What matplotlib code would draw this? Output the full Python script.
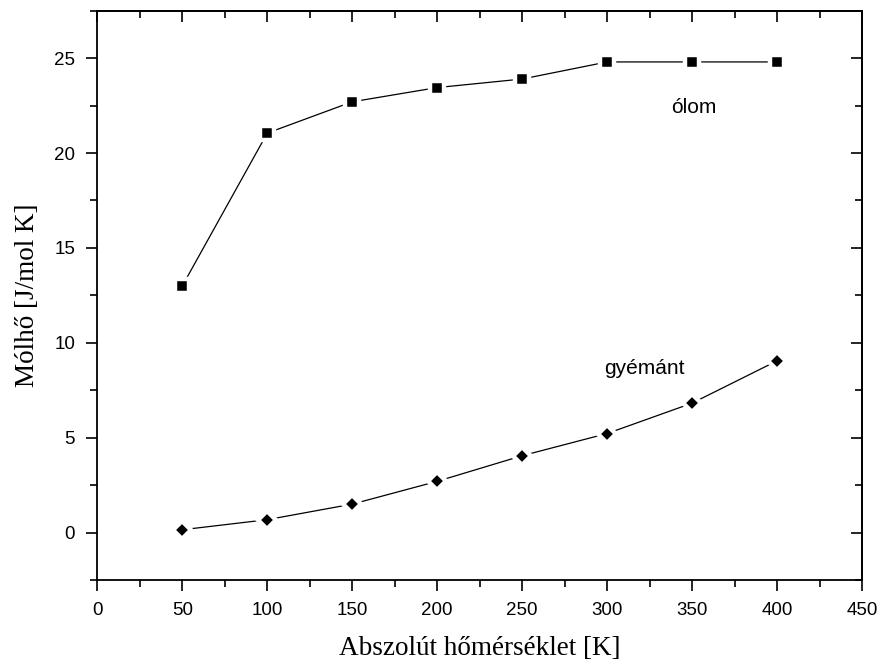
import matplotlib.pyplot as plt
from matplotlib.ticker import MultipleLocator

# data
T = [50, 100, 150, 200, 250, 300, 350, 400]
olom = [13.0, 21.05, 22.7, 23.45, 23.9, 24.8, 24.8, 24.8]
gyemant = [0.15, 0.68, 1.5, 2.7, 4.05, 5.22, 6.82, 9.05]

fig = plt.figure(figsize=(8.85, 6.69), dpi=100)
ax = fig.add_axes([0.110, 0.133, 0.864, 0.851])

# white marker edge leaves a small gap between line and marker
ax.plot(T, olom, color="black", lw=0.9, marker="s", ms=10.5,
        mfc="black", mec="white", mew=3.2)
ax.plot(T, gyemant, color="black", lw=0.9, marker="D", ms=9,
        mfc="black", mec="white", mew=3.2)

ax.text(351, 22.4, "ólom", family="Liberation Sans", fontsize=15,
        ha="center", va="center")
ax.text(322, 8.65, "gyémánt", family="Liberation Sans", fontsize=15,
        ha="center", va="center")

ax.set_xlim(0, 450)
ax.set_ylim(-2.5, 27.5)
ax.xaxis.set_major_locator(MultipleLocator(50))
ax.xaxis.set_minor_locator(MultipleLocator(25))
ax.yaxis.set_major_locator(MultipleLocator(5))
ax.yaxis.set_minor_locator(MultipleLocator(2.5))

ax.tick_params(which="major", direction="out", length=8, width=1.2,
               labelsize=13.5, pad=8)
ax.tick_params(which="minor", direction="out", length=5, width=1.2)
for lab in ax.get_xticklabels() + ax.get_yticklabels():
    lab.set_family("Liberation Sans")

for s in ax.spines.values():
    s.set_linewidth(1.3)

# top and right axes with inward ticks
top = ax.secondary_xaxis("top")
top.xaxis.set_major_locator(MultipleLocator(50))
top.xaxis.set_minor_locator(MultipleLocator(25))
top.tick_params(which="major", direction="in", length=8, width=1.2, labeltop=False)
top.tick_params(which="minor", direction="in", length=5, width=1.2)
top.spines["top"].set_linewidth(1.3)

right = ax.secondary_yaxis("right")
right.yaxis.set_major_locator(MultipleLocator(5))
right.yaxis.set_minor_locator(MultipleLocator(2.5))
right.tick_params(which="major", direction="in", length=8, width=1.2, labelright=False)
right.tick_params(which="minor", direction="in", length=5, width=1.2)
right.spines["right"].set_linewidth(1.3)

ax.set_xlabel("Abszolút hőmérséklet [K]", family="Liberation Serif",
              fontsize=19.5, labelpad=12)
ax.set_ylabel("Mólhő [J/mol K]", family="Liberation Serif",
              fontsize=19.5, labelpad=10)

fig.savefig("out.png", dpi=100)
